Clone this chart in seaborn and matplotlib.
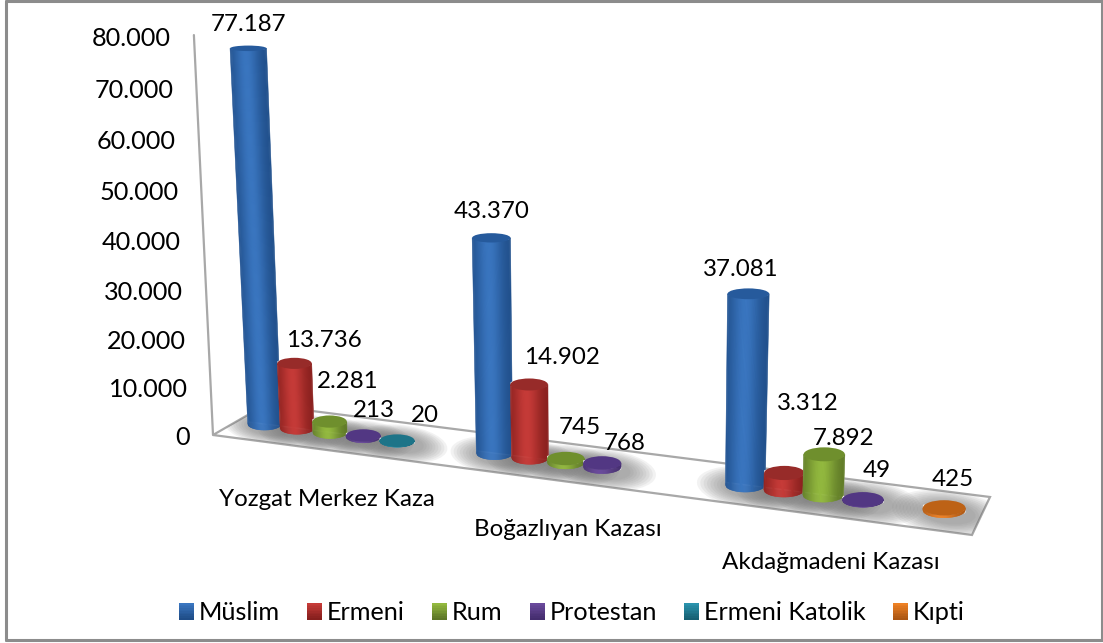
import numpy as np
import pandas as pd
import matplotlib
matplotlib.use('Agg')
import matplotlib.pyplot as plt
import matplotlib.transforms as mtransforms
from matplotlib.collections import PolyCollection
from matplotlib.legend_handler import HandlerBase
from matplotlib.patches import Ellipse, Patch, Polygon, Rectangle
import seaborn as sns

kazalar = ['Yozgat Merkez Kaza', 'Boğazlıyan Kazası', 'Akdağmadeni Kazası']
dinler = ['Müslim', 'Ermeni', 'Rum', 'Protestan', 'Ermeni Katolik', 'Kıpti']

muslim = [77187, 43370, 37081]
ermeni = [13736, 14902, 3312]
rum = [2281, 745, 7892]
protestan = [213, 768, 49]
katolik = [20, None, None]
kipti = [None, None, 425]

y_ticks = [0, 10000, 20000, 30000, 40000, 50000, 60000, 70000, 80000]

# colours of each series: body, light side, dark side, top cap
orta = ['#2c62a6', '#b03230', '#7f9f35', '#5b3f8c', '#1f7f96', '#d9701c']
acik = ['#3a76c0', '#c63b38', '#93b93f', '#6a4a9c', '#2a93ad', '#ee8124']
koyu = ['#1f4d88', '#861f1d', '#5c7626', '#442d6e', '#165f72', '#ab5613']
kapak = ['#265a9c', '#972b29', '#6f8f2d', '#523783', '#1d7488', '#bd6216']

# label offset from the top of each bar, in pixels
nudge = {(0, 0): (0, -24), (0, 1): (29, -23), (0, 2): (18, -40), (0, 3): (11, -25), (0, 4): (28, -25),
         (1, 0): (0, -26), (1, 1): (33, -27), (1, 2): (14, -31), (1, 3): (23, -19),
         (2, 0): (-8, -24), (2, 1): (23, -69), (2, 2): (19, -16), (2, 3): (14, -29), (2, 5): (9, -28)}

W, H = 1103, 643
BAR_H = np.array([[212.8, -3.573e-4, 346.6],
                  [10.54, -4.97e-3, 434.4],
                  [-0.042, -5.8e-7, 1.0]])
AXIS_X = -0.6025
AXIS_H = np.array([[212.8, -3.573e-4, 346.6],
                   [0.0, -5.146e-3, 446.0],
                   [-0.042, -5.8e-7, 1.0]])


class Perspective(mtransforms.Transform):
    input_dims = 2
    output_dims = 2

    def __init__(self, mat):
        super().__init__()
        self.mat = mat

    def transform_non_affine(self, values):
        values = np.asarray(values, dtype=float)
        p = np.c_[values, np.ones(len(values))] @ self.mat.T
        return p[:, :2] / p[:, 2:]


class GradientBox(HandlerBase):
    def create_artists(self, legend, orig_handle, xdescent, ydescent, width, height, fontsize, trans):
        i = orig_handle.get_gid()
        out = []
        for k in range(10):
            out.append(Rectangle((-xdescent, -ydescent + height * (9 - k) / 10), width, height / 10 + 0.3,
                                 facecolor=mix(acik[i], koyu[i], k / 9), edgecolor='none', transform=trans))
        return out


def proj(mat, x, y):
    p = mat @ np.array([x, y, 1.0])
    return p[0] / p[2], p[1] / p[2]


def mix(c1, c2, t):
    return tuple(np.array(matplotlib.colors.to_rgb(c1)) * (1 - t) + np.array(matplotlib.colors.to_rgb(c2)) * t)


sns.set_theme(style='white')
plt.rcParams['font.family'] = ['Lato', 'DejaVu Sans']
FS = 17.4

seriler = [muslim, ermeni, rum, protestan, katolik, kipti]
rows = []
for din, seri in zip(dinler, seriler):
    for kaza, deger in zip(kazalar, seri):
        if deger is not None:
            rows.append({'kaza': kaza, 'din': din, 'nufus': deger})
df = pd.DataFrame(rows)

fig = plt.figure(figsize=(W / 100, H / 100), dpi=100)
ax = fig.add_axes([0, 0, 1, 1])
sns.barplot(data=df, x='kaza', y='nufus', hue='din', order=kazalar, hue_order=dinler,
            palette=orta, saturation=1, width=0.88, gap=0, errorbar=None, legend=False, ax=ax)
ax.axis('off')

# reference pixels (y down) -> display
pix = mtransforms.Affine2D().scale(1, -1).translate(0, H)
bar_tf = Perspective(BAR_H) + pix

# frame
for xs, ys in [([6, 1102], [1, 1]), ([6, 1102], [640, 640]), ([6, 6], [1, 640]), ([1102, 1102], [1, 640])]:
    ax.plot(xs, ys, color='#8c8c8c', lw=2.2, transform=pix, clip_on=False, zorder=1)

# floor
floor = Polygon([(213, 435), (265, 405), (990, 497), (972, 535)], closed=True, facecolor='white',
                edgecolor='#a8a8a8', lw=1.6, transform=pix, zorder=2, clip_on=False)
ax.add_patch(floor)

# value axis
ys = np.array([0, 80000])
ax_pts = [proj(AXIS_H, AXIS_X, v) for v in ys]
ax.plot([p[0] for p in ax_pts], [p[1] for p in ax_pts], color='#a8a8a8', lw=1.6, transform=pix,
        clip_on=False, zorder=2)
for t in y_ticks:
    u, v = proj(AXIS_H, AXIS_X, t)
    ax.text(u - 23, v + 3, f'{t:,.0f}'.replace(',', '.'), ha='right', va='center', fontsize=18.2,
            color='black', transform=pix)

# category labels
for i, kaza in enumerate(kazalar):
    u, v = proj(BAR_H, i, 0)
    ax.text(u - 20 + 4 * i, v + 65, kaza, ha='center', va='center', fontsize=FS, color='black', transform=pix)

# cylinders are built around the seaborn bars
sira = 0
for h, cont in enumerate(ax.containers):
    for bar in cont:
        val = bar.get_height()
        if np.isnan(val):
            continue
        xc = bar.get_x() + bar.get_width() / 2
        g = int(round(xc))
        z = 4 + sira * 0.01 + (g * 10 + h)
        bar.set_transform(bar_tf)
        bar.set_clip_on(False)
        bar.set_zorder(z)
        sira += 1

        bu, bv = proj(BAR_H, xc, 0)
        tu, tv = proj(BAR_H, xc, val)
        rb = abs(proj(BAR_H, xc + bar.get_width() / 2, 0)[0] - bu) * 1.03
        rt = abs(proj(BAR_H, xc + bar.get_width() / 2, val)[0] - tu) * (1.03 + val * 6e-7)
        oran_b = 0.36
        oran_t = max(0.36 - 2.7e-6 * val, 0.1)

        # soft shadow on the floor
        for k in range(9):
            s = 1.0 + k * 0.13
            sh = Ellipse((bu + 4, bv + 3), 2 * rb * s * 1.3, 2 * rb * oran_b * s * 1.45, angle=7,
                         facecolor='#6f6f6f', edgecolor='none', alpha=0.085, transform=pix, zorder=3)
            ax.add_patch(sh)
            sh.set_clip_path(floor)

        # body as narrow strips
        n = 36
        us = np.linspace(-1, 1, n + 1)
        polys = []
        cols = []
        for a, b in zip(us[:-1], us[1:]):
            polys.append([(tu + a * rt, tv + rt * oran_t * np.sqrt(1 - a * a)),
                          (tu + b * rt, tv + rt * oran_t * np.sqrt(1 - b * b)),
                          (bu + b * rb, bv + rb * oran_b * np.sqrt(1 - b * b)),
                          (bu + a * rb, bv + rb * oran_b * np.sqrt(1 - a * a))])
            m = (a + b) / 2
            cols.append(mix(koyu[h], acik[h], np.exp(-((m + 0.12) / 0.7) ** 2)))
        pc = PolyCollection(polys, facecolors=cols, edgecolors='face', linewidths=0.4,
                            transform=pix, zorder=z + 0.1)
        pc.set_clip_on(False)
        ax.add_collection(pc, autolim=False)

        cap = Ellipse((tu, tv), 2 * rt, 2 * rt * oran_t, facecolor=kapak[h], edgecolor='none',
                      transform=pix, zorder=z + 0.2)
        ax.add_patch(cap)

        dx, dy = nudge[(g, h)]
        ax.text(tu + dx, tv + dy, f'{val:,.0f}'.replace(',', '.'), ha='center', va='center',
                fontsize=FS, color='black', transform=pix, zorder=60)

handles = [Patch(facecolor=c, gid=i) for i, c in enumerate(orta)]
ax.legend(handles=handles, labels=dinler, ncol=6, handler_map={Patch: GradientBox()},
          loc='center', bbox_to_anchor=(572 / W, 1 - 613 / H), bbox_transform=fig.transFigure,
          frameon=False, fontsize=18.2, handlelength=0.59, handleheight=0.59,
          handletextpad=0.2, columnspacing=1.07, borderpad=0, labelcolor='black')

fig.savefig('out.png', dpi=100)
